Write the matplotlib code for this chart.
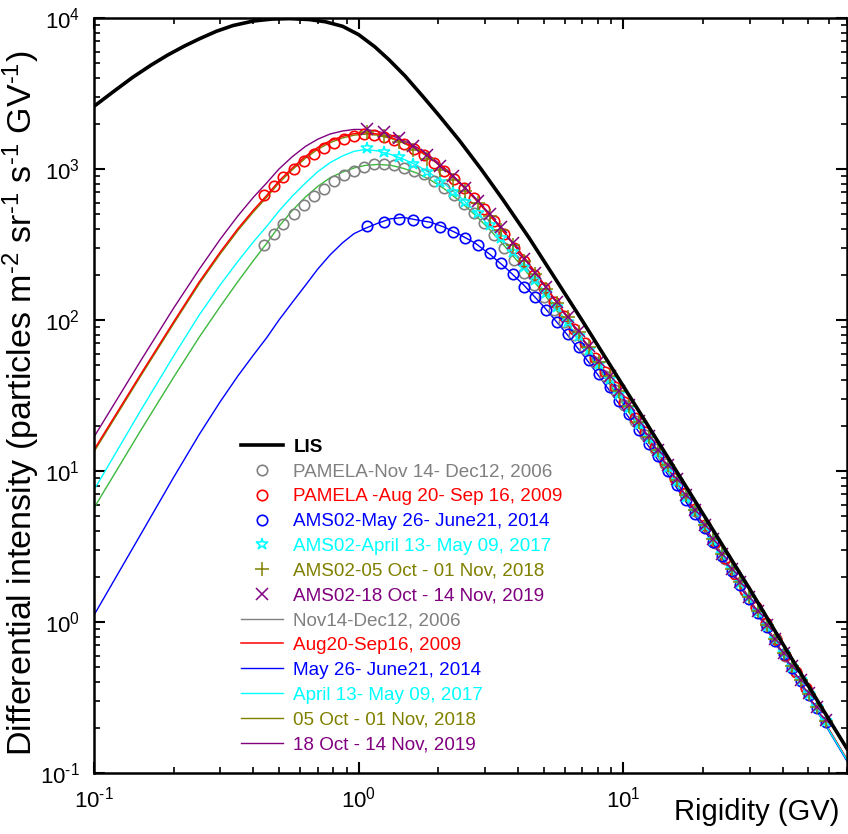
import matplotlib
matplotlib.use("Agg")
import matplotlib.pyplot as plt
from matplotlib.lines import Line2D
from matplotlib.ticker import FuncFormatter
import numpy as np

plt.rcParams['font.family'] = ['Liberation Sans', 'DejaVu Sans']
plt.rcParams['mathtext.fontset'] = 'custom'
plt.rcParams['mathtext.rm'] = 'Liberation Sans'
plt.rcParams['mathtext.default'] = 'regular'

# ---- LIS ----
lis_R = [0.1, 0.12, 0.14, 0.165, 0.19, 0.22, 0.25, 0.29, 0.335, 0.4, 0.47, 0.55,
         0.65, 0.75, 0.87, 1.0, 1.15, 1.3, 1.5, 1.75, 2.0, 2.4, 2.9, 3.5, 4.4,
         5.5, 7, 9, 12, 16, 22, 30, 42, 55, 70]
lis_J = [2600, 3311, 4046, 4898, 5689, 6531, 7278, 8166, 8913, 9550, 9840, 9908,
         9772, 9441, 8810, 7762, 6457, 5309, 4121, 3020, 2291, 1549, 1000, 631, 351,
         191, 98.9, 49.0, 21.9, 9.77, 3.98, 1.66, 0.624, 0.288, 0.145]

# ---- PAMELA data (rigidity bins) ----
pam_R = [0.44, 0.48, 0.52, 0.57, 0.62, 0.68, 0.74, 0.81, 0.88, 0.96, 1.05, 1.14,
         1.25, 1.36, 1.48, 1.62, 1.76, 1.92, 2.10, 2.29, 2.50, 2.73, 2.98, 3.25,
         3.55, 3.87, 4.22, 4.61, 5.03, 5.49, 5.99, 6.54, 7.14, 7.79, 8.50, 9.28,
         10.1, 11.1, 12.1, 13.2, 14.4, 15.7, 17.1, 18.7, 20.4, 22.3, 24.3, 26.5,
         28.9, 31.6, 34.5, 37.6, 41.0, 44.8, 48.9]
pam2006_J = [316, 372, 432, 501, 575, 661, 741, 832, 912, 977, 1035, 1072,
             1079, 1059, 1023, 977, 923, 832, 750, 676, 589, 513, 437, 363,
             302, 251, 204, 170, 141, 117, 96.6, 79.4, 64.6, 52.5, 42.7, 34.3,
             27.5, 21.6, 17.4, 14.0, 11.1, 8.81, 7.00, 5.47, 4.29, 3.36, 2.63, 2.07,
             1.61, 1.25, 0.977, 0.767, 0.600, 0.468, 0.366]
pam2009_J = [676, 776, 881, 1000, 1122, 1259, 1380, 1496, 1585, 1660, 1698, 1679,
             1622, 1549, 1462, 1349, 1230, 1096, 977, 861, 750, 646, 543, 452,
             372, 302, 245, 200, 162, 132, 107, 87.1, 70.0, 56.2, 45.2, 36.1,
             28.8, 22.5, 18.0, 14.4, 11.4, 9.02, 7.14, 5.57, 4.36, 3.40, 2.66, 2.09,
             1.63, 1.26, 0.984, 0.773, 0.603, 0.470, 0.367]

# ---- AMS-02 data (rigidity bins) ----
ams_R = [1.08, 1.25, 1.42, 1.61, 1.82, 2.03, 2.27, 2.53, 2.82, 3.13, 3.46, 3.83,
         4.22, 4.65, 5.12, 5.63, 6.18, 6.78, 7.42, 8.12, 8.87, 9.67, 10.5, 11.5,
         12.5, 13.5, 14.7, 15.9, 17.3, 18.7, 20.3, 21.9, 23.7, 25.7, 27.7, 29.9,
         32.3, 34.8, 37.5, 40.4, 43.5, 46.8, 50.3, 54.1, 58.2]
ams2014_J = [419, 446, 467, 460, 446, 413, 385, 351, 314, 277, 240, 201,
             166, 141, 117, 97.7, 80.4, 66.1, 54.3, 44.2, 35.9, 29.2, 23.7, 18.8,
             15.2, 12.5, 10.0, 8.13, 6.46, 5.21, 4.18, 3.39, 2.72, 2.17, 1.77, 1.42,
             1.15, 0.927, 0.753, 0.612, 0.498, 0.405, 0.329, 0.269, 0.218]
ams2017_J = [1377, 1297, 1200, 1076, 953, 815, 708, 603, 509, 425, 351, 281,
             223, 185, 150, 122, 97.7, 78.7, 63.5, 50.8, 40.6, 32.6, 26.2, 20.6,
             16.5, 13.4, 10.6, 8.59, 6.78, 5.45, 4.35, 3.51, 2.81, 2.24, 1.82, 1.46,
             1.17, 0.948, 0.769, 0.625, 0.507, 0.412, 0.335, 0.273, 0.222]
ams2018_J = [1750, 1656, 1510, 1340, 1172, 991, 851, 716, 592, 488, 396, 313,
             246, 201, 161, 130, 104, 83.0, 66.7, 53.1, 42.3, 33.7, 27.0, 21.1,
             16.9, 13.7, 10.9, 8.75, 6.89, 5.52, 4.40, 3.55, 2.83, 2.25, 1.83, 1.47,
             1.18, 0.953, 0.773, 0.627, 0.509, 0.413, 0.336, 0.274, 0.222]
ams2019_J = [1854, 1758, 1603, 1419, 1236, 1042, 893, 748, 617, 507, 410, 324,
             254, 206, 165, 132, 105, 84.3, 67.6, 53.8, 42.8, 34.0, 27.2, 21.3,
             17.0, 13.8, 10.9, 8.81, 6.92, 5.55, 4.42, 3.56, 2.84, 2.26, 1.84, 1.47,
             1.19, 0.955, 0.774, 0.628, 0.511, 0.414, 0.337, 0.274, 0.223]

# ---- model curves ----
mod_R = [0.1, 0.15, 0.2, 0.25, 0.3, 0.35, 0.4, 0.45, 0.5, 0.56, 0.63, 0.7,
         0.78, 0.87, 0.96, 1.06, 1.18, 1.32, 1.48, 1.66, 1.87, 2.1, 2.4, 2.75,
         3.15, 3.6, 4.2, 5.0, 6.0, 7.2, 8.7, 10.5, 13, 16, 20, 25, 32, 42, 55, 70]
mod2006_J = [5.69, 18.5, 41.8, 77.1, 123, 180, 247, 323, 417, 528, 653, 766,
             875, 955, 1016, 1057, 1072, 1059, 1009, 940, 845, 743, 617, 498,
             392, 302, 220, 150, 98.6, 63.5, 39.4, 24.4, 13.9, 7.96, 4.32, 2.32,
             1.16, 0.532, 0.245, 0.121]
mod2009_J = [13.8, 43.6, 97.2, 179, 282, 403, 533, 670, 832, 1012, 1213, 1387,
             1538, 1648, 1714, 1738, 1706, 1622, 1503, 1358, 1186, 1009, 815, 638,
             489, 369, 262, 173, 111, 70.1, 42.7, 26.1, 14.6, 8.28, 4.45, 2.37,
             1.18, 0.540, 0.248, 0.123]
mod2014_J = [1.11, 3.79, 9.08, 17.5, 28.8, 42.7, 58.5, 76.6, 100, 130, 170, 217,
             270, 325, 373, 405, 437, 468, 478, 460, 444, 413, 369, 324,
             270, 221, 171, 123, 84.1, 56.0, 35.7, 22.6, 13.1, 7.62, 4.20, 2.28,
             1.14, 0.527, 0.243, 0.120]
mod2017_J = [7.48, 25.1, 57.9, 108, 171, 245, 329, 418, 527, 658, 809, 959,
             1102, 1222, 1309, 1349, 1318, 1250, 1161, 1059, 933, 804, 659, 527,
             413, 318, 231, 157, 102, 65.8, 40.6, 25.1, 14.2, 8.09, 4.37, 2.34,
             1.16, 0.535, 0.245, 0.122]
mod2018_J = [13.4, 42.4, 94.6, 174, 274, 392, 519, 652, 809, 984, 1180, 1349,
             1496, 1607, 1675, 1702, 1675, 1596, 1483, 1343, 1175, 1002, 811, 635,
             488, 368, 262, 173, 111, 70.1, 42.7, 26.1, 14.6, 8.28, 4.45, 2.37,
             1.18, 0.540, 0.248, 0.123]
mod2019_J = [16.8, 53.6, 120, 217, 343, 490, 649, 811, 1000, 1202, 1413, 1574,
             1706, 1786, 1828, 1828, 1778, 1679, 1545, 1390, 1208, 1026, 826, 646,
             493, 372, 263, 174, 111, 70.3, 42.8, 26.1, 14.6, 8.28, 4.45, 2.37,
             1.18, 0.540, 0.248, 0.123]

gray, red, blue, cyan, olive, purple = '#808080', '#ff0000', '#0000ff', '#00ffff', '#808000', '#800080'
green = '#3cb83c'

fig = plt.figure(figsize=(8.48, 8.34), dpi=100)
ax = fig.add_axes([0.1108, 0.0731, 0.888, 0.9053])

# model lines
l06, = ax.plot(mod_R, mod2006_J, '-', color=green, lw=1.0, zorder=2)
l09, = ax.plot(mod_R, mod2009_J, '-', color=red, lw=1.1, zorder=2, label='Aug20-Sep16, 2009')
l14, = ax.plot(mod_R, mod2014_J, '-', color=blue, lw=1.0, zorder=2, label='May 26- June21, 2014')
l17, = ax.plot(mod_R, mod2017_J, '-', color=cyan, lw=1.0, zorder=2, label='April 13- May 09, 2017')
l18, = ax.plot(mod_R, mod2018_J, '-', color=olive, lw=1.0, zorder=1.9, label='05 Oct - 01 Nov, 2018')
l19, = ax.plot(mod_R, mod2019_J, '-', color=purple, lw=1.0, zorder=1.9, label='18 Oct - 14 Nov, 2019')

# data
p06, = ax.plot(pam_R, pam2006_J, 'o', mfc='none', mec=gray, ms=7.5, mew=1.2, zorder=3,
               label='PAMELA-Nov 14- Dec12, 2006')
p09, = ax.plot(pam_R, pam2009_J, 'o', mfc='none', mec=red, ms=7.5, mew=1.2, zorder=3,
               label='PAMELA -Aug 20- Sep 16, 2009')
a14, = ax.plot(ams_R, ams2014_J, 'o', mfc='none', mec=blue, ms=7.5, mew=1.2, zorder=3,
               label='AMS02-May 26- June21, 2014')
a17, = ax.plot(ams_R, ams2017_J, '*', mfc='none', mec=cyan, ms=9, mew=1.1, zorder=3,
               label='AMS02-April 13- May 09, 2017')
a18, = ax.plot(ams_R, ams2018_J, '+', color=olive, ms=10, mew=1.1, zorder=3,
               label='AMS02-05 Oct - 01 Nov, 2018')
a19, = ax.plot(ams_R, ams2019_J, 'x', color=purple, ms=8, mew=1.1, zorder=3,
               label='AMS02-18 Oct - 14 Nov, 2019')

lis, = ax.plot(lis_R, lis_J, '-', color='black', lw=2.6, zorder=4, label='LIS')

ax.set_xscale('log')
ax.set_yscale('log')
ax.set_xlim(0.1, 70)
ax.set_ylim(0.1, 1e4)

# decade labels with a plain hyphen in the exponent
dec_fmt = FuncFormatter(lambda v, pos: r'$10^{\text{%d}}$' % int(round(np.log10(v))))
ax.xaxis.set_major_formatter(dec_fmt)
ax.yaxis.set_major_formatter(dec_fmt)

for s in ax.spines.values():
    s.set_linewidth(1.8)
ax.tick_params(which='both', direction='in', top=True, right=True, labelsize=16)
ax.tick_params(which='major', length=8, width=1.5, pad=10)
ax.tick_params(which='minor', length=4.5, width=1.2)

ax.set_ylabel(r'Differential intensity (particles m$^{\text{-2}}$ sr$^{\text{-1}}$ '
              r's$^{\text{-1}}$ GV$^{\text{-1}}$)', fontsize=24.5)
ax.yaxis.set_label_coords(-0.0695, 0.49)
ax.set_xlabel('Rigidity (GV)', fontsize=21, ha='right')
ax.xaxis.set_label_coords(0.99, -0.033)

proxy06 = Line2D([], [], color=gray, lw=1.0, label='Nov14-Dec12, 2006')
handles = [lis, p06, p09, a14, a17, a18, a19, proxy06, l09, l14, l17, l18, l19]
text_colors = ['black', gray, red, blue, cyan, olive, purple, gray, red, blue, cyan, olive, purple]
leg = ax.legend(handles=handles, loc='upper left', bbox_to_anchor=(0.195, 0.443),
                frameon=False, fontsize=13.6, numpoints=1, handlelength=2.25,
                handletextpad=0.53, labelspacing=0.4, borderpad=0, borderaxespad=0)
for t, c in zip(leg.get_texts(), text_colors):
    t.set_color(c)
leg.get_texts()[0].set_fontweight('bold')

fig.savefig('out.png', dpi=100)
